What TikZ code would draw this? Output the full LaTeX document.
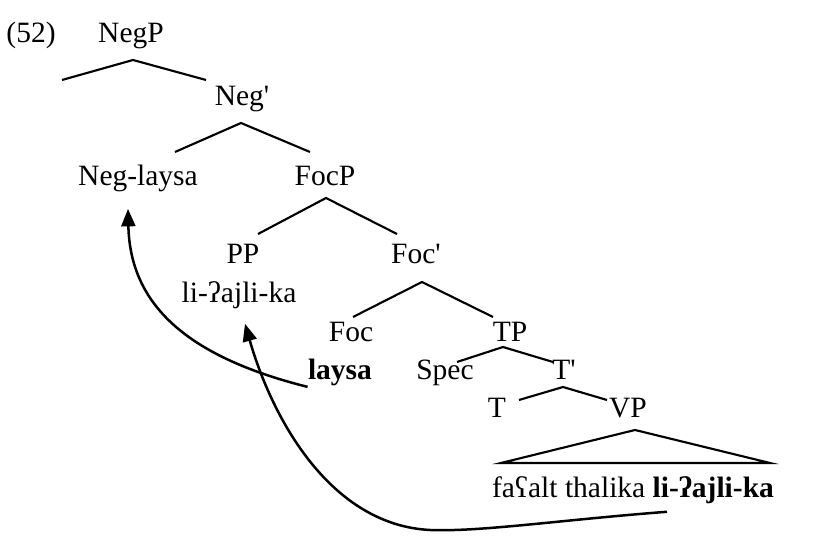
\documentclass[tikz,border=0pt]{standalone}
\usepackage{fontspec}
\setmainfont{Liberation Serif}
\usetikzlibrary{arrows.meta,calc}
\tikzset{
  lbl/.style={anchor=base,inner sep=0pt,font=\fontsize{11.8}{14}\selectfont},
  branch/.style={line width=0.85pt},
  move/.style={line width=1pt,-{Triangle[length=7pt,width=5.6pt]}},
}
\begin{document}
\begin{tikzpicture}[x=0.4pt,y=-0.4pt]
  \useasboundingbox (0,0) rectangle (827,557);
  % labels
  \node[lbl] (ex) at (31,43) {(52)};
  \node[lbl] (NegP) at (131,43) {NegP};
  \node[lbl] (Negbar) at (242,106) {Neg\textquotesingle};
  \node[lbl] (Neglaysa) at (138,186) {Neg-laysa};
  \node[lbl] (FocP) at (325,186) {FocP};
  \node[lbl] (PP) at (243,264) {PP};
  \node[lbl] (Focbar) at (416,264) {Foc\textquotesingle};
  \node[lbl] (PPword) at (239,303) {li-ʔajli-ka};
  \node[lbl] (Foc) at (351,342) {Foc};
  \node[lbl] (TP) at (510,342) {TP};
  \node[lbl] (laysa) at (340,380) {\textbf{laysa}};
  \node[lbl] (Spec) at (445,380) {Spec};
  \node[lbl] (Tbar) at (564,380) {T\textquotesingle};
  \node[lbl] (T) at (497,418) {T};
  \node[lbl] (VP) at (628,418) {VP};
  \node[lbl] (VPword) at (633,498) {faʕalt thalika \textbf{li-ʔajli-ka}};
  % branches
  \draw[branch] (62,80) -- (133,60) -- (206,80);
  \draw[branch] (175,152) -- (241,123) -- (310,152);
  \draw[branch] (258,234) -- (326,198) -- (397,234);
  \draw[branch] (353,317) -- (422,282) -- (493,317);
  \draw[branch] (457,362) -- (503,347) -- (553,362);
  \draw[branch] (519,400) -- (563,387) -- (607,400);
  \draw[branch] (635,430) -- (501,463) -- (770,463) -- cycle;
  % movement
  \draw[move] (laysa.south west) .. controls (180,355) and (130,300) .. ($(Neglaysa.south)+(-10,16)$);
  \draw[move] ($(VPword.south)+(34,7)$) .. controls (560,520) and (480,532) .. (430,530)
    .. controls (330,525) and (272,418) .. ($(PPword.south)+(6,14)$);
\end{tikzpicture}
\end{document}
